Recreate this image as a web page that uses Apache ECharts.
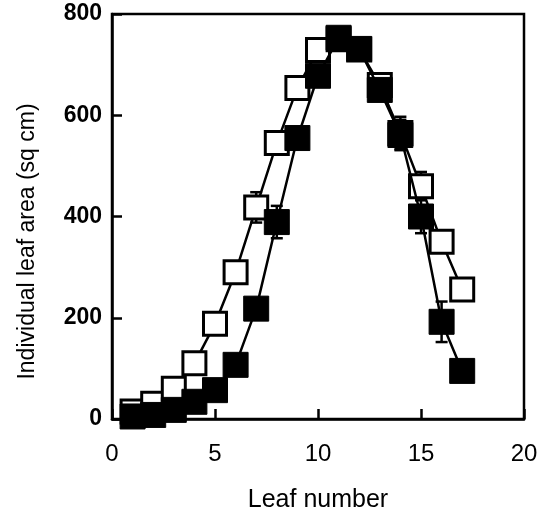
<!DOCTYPE html>
<html>
<head>
<meta charset="utf-8">
<script src="https://cdn.jsdelivr.net/npm/echarts@6/dist/echarts.min.js"></script>
<style>
  html, body { margin: 0; padding: 0; background: #fff; }
  #chart { width: 547px; height: 511px; }
</style>
</head>
<body>
<div id="chart"></div>
<script>
const leafNumbers = [1, 2, 3, 4, 5, 6, 7, 8, 9, 10, 11, 12, 13, 14, 15, 16, 17];
const openArea = [15, 30, 60, 110, 188, 290, 418, 545, 654, 729, 750, 730, 660, 565, 460, 350, 256];
const openErr = [5, 5, 8, 12, 12, 15, 30, 18, 15, 15, 12, 12, 15, 32, 28, 18, 12];
const filledArea = [5, 8, 18, 34, 57, 107, 218, 389, 555, 678, 753, 731, 650, 561, 400, 192, 95];
const filledErr = [3, 4, 6, 8, 10, 15, 20, 32, 20, 15, 12, 12, 20, 30, 33, 40, 15];
const xTicks = [0, 5, 10, 15, 20];
const yTicks = [0, 200, 400, 600, 800];

const pairs = (ys) => leafNumbers.map((x, i) => [x, ys[i]]);
const errRows = (ys, es) => leafNumbers.map((x, i) => [x, ys[i] - es[i], ys[i] + es[i]]);

const chart = echarts.init(document.getElementById('chart'), null, { renderer: 'canvas' });

const font = 'Liberation Sans, Arial, sans-serif';

// error bar with caps
function renderErr(params, api) {
    const lo = api.coord([api.value(0), api.value(1)]);
    const hi = api.coord([api.value(0), api.value(2)]);
    const w = 6;
    const style = { stroke: '#000', lineWidth: 2.5 };
    return {
        type: 'group',
        children: [
            { type: 'line', shape: { x1: lo[0], y1: lo[1], x2: hi[0], y2: hi[1] }, style },
            { type: 'line', shape: { x1: lo[0] - w, y1: lo[1], x2: lo[0] + w, y2: lo[1] }, style },
            { type: 'line', shape: { x1: hi[0] - w, y1: hi[1], x2: hi[0] + w, y2: hi[1] }, style }
        ]
    };
}

chart.setOption({
    animation: false,
    grid: {
        left: 112, top: 14, width: 412, height: 405,
        outerBoundsMode: 'none',
        containLabel: false,
        show: true, borderColor: '#000', borderWidth: 2.5, backgroundColor: 'transparent'
    },
    xAxis: {
        type: 'value',
        min: xTicks[0], max: xTicks[xTicks.length - 1], interval: 5,
        name: 'Leaf number',
        nameLocation: 'middle',
        nameGap: 69,
        nameTextStyle: { color: '#000', fontFamily: font, fontSize: 25 },
        axisLine: { show: true, lineStyle: { color: '#000', width: 2.5 } },
        axisTick: { show: true, inside: true, length: 10, lineStyle: { color: '#000', width: 2.5 } },
        axisLabel: { color: '#000', fontFamily: font, fontSize: 24, margin: 23 },
        splitLine: { show: false }
    },
    yAxis: {
        type: 'value',
        min: yTicks[0], max: yTicks[yTicks.length - 1], interval: 200,
        name: 'Individual leaf area (sq cm)',
        nameLocation: 'middle',
        nameGap: 73,
        nameTextStyle: { color: '#000', fontFamily: font, fontSize: 23, padding: [0, 50, 0, 0] },
        axisLine: { show: true, lineStyle: { color: '#000', width: 2.5 } },
        axisTick: { show: true, inside: true, length: 10, lineStyle: { color: '#000', width: 2.5 } },
        axisLabel: { color: '#000', fontFamily: font, fontSize: 23, fontWeight: 'bold', margin: 10 },
        splitLine: { show: false }
    },
    series: [
        {
            name: 'open err',
            type: 'custom',
            renderItem: renderErr,
            data: errRows(openArea, openErr),
            encode: { x: 0, y: [1, 2] },
            z: 1
        },
        {
            name: 'filled err',
            type: 'custom',
            renderItem: renderErr,
            data: errRows(filledArea, filledErr),
            encode: { x: 0, y: [1, 2] },
            z: 1
        },
        {
            name: 'open',
            type: 'line',
            data: pairs(openArea),
            symbol: 'rect',
            symbolSize: 23,
            lineStyle: { color: '#000', width: 2.5 },
            itemStyle: { color: '#fff', borderColor: '#000', borderWidth: 3 },
            z: 2
        },
        {
            name: 'filled',
            type: 'line',
            data: pairs(filledArea),
            symbol: 'rect',
            symbolSize: 25,
            lineStyle: { color: '#000', width: 2.5 },
            itemStyle: { color: '#000', borderColor: '#000', borderWidth: 1 },
            z: 3
        }
    ]
});
</script>
</body>
</html>
